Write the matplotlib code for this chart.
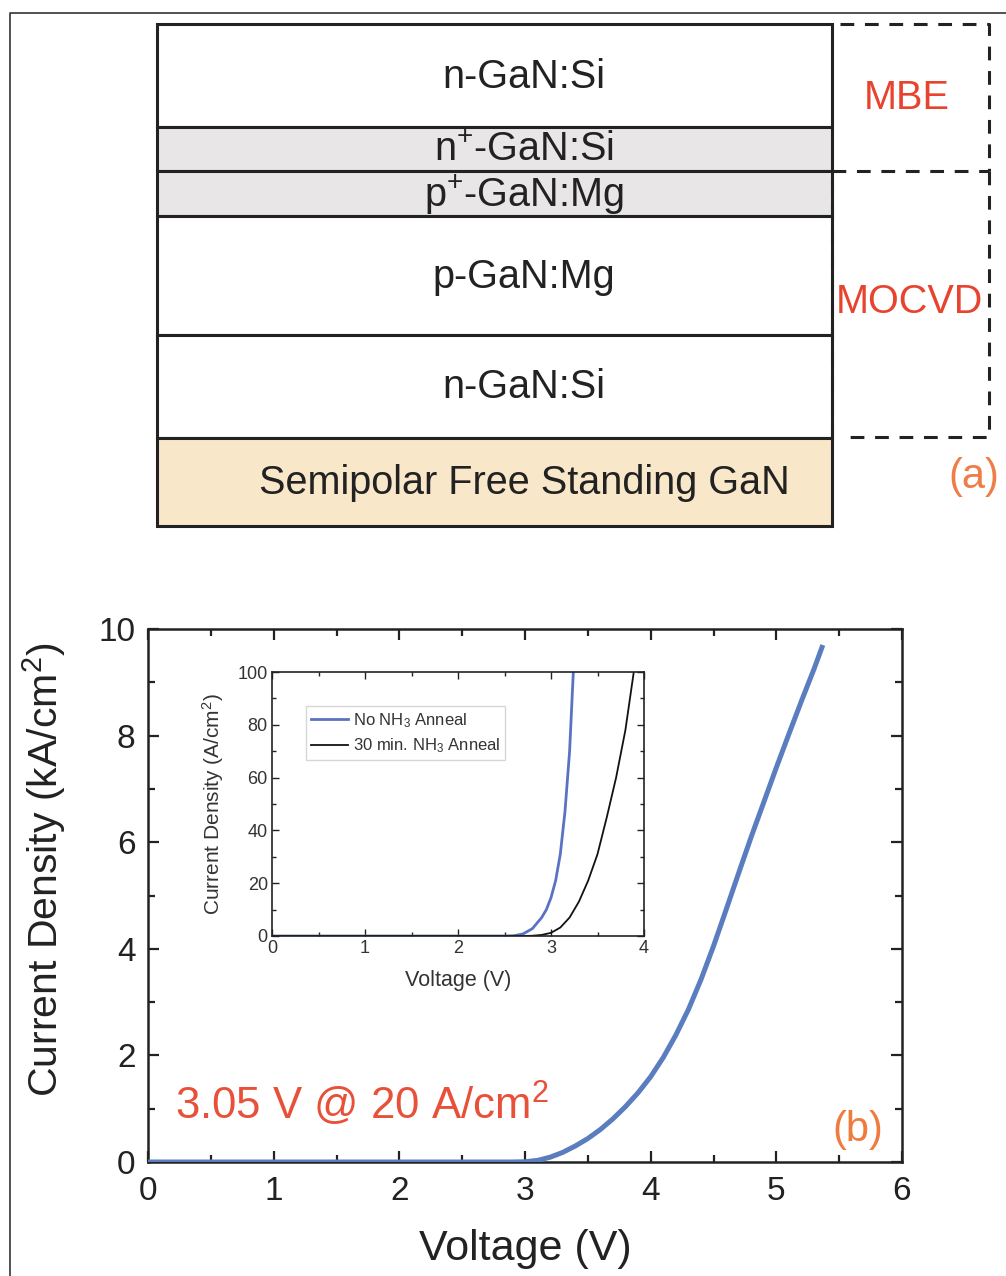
import matplotlib.pyplot as plt
from matplotlib.patches import Rectangle
from matplotlib.ticker import MultipleLocator

plt.rcParams['font.family'] = ['Liberation Sans', 'DejaVu Sans']
plt.rcParams['mathtext.default'] = 'regular'

# layer stack (a), top to bottom, edges in pixel rows
layer_names = ['n-GaN:Si', r'n$^{+}$-GaN:Si', r'p$^{+}$-GaN:Mg', 'p-GaN:Mg', 'n-GaN:Si',
               'Semipolar Free Standing GaN']
layer_edges = [24, 127, 171, 216, 335, 438, 526]
layer_colors = ['white', '#e8e6e6', '#e8e6e6', 'white', 'white', '#f8e7c9']

# main J-V curve (b)
v_main = [0, 2.9, 3.0, 3.1, 3.2, 3.3, 3.4, 3.5, 3.6, 3.7, 3.8, 3.9, 4.0, 4.1, 4.2,
          4.3, 4.4, 4.5, 4.6, 4.7, 4.8, 4.9, 5.0, 5.1, 5.2, 5.3, 5.37]
j_main = [0, 0, 0.005, 0.03, 0.09, 0.18, 0.30, 0.44, 0.61, 0.81, 1.04, 1.30, 1.60, 1.96,
          2.38, 2.86, 3.42, 4.05, 4.73, 5.42, 6.1, 6.75, 7.4, 8.03, 8.65, 9.25, 9.70]

# inset curves (A/cm2)
v_no = [0, 2.5, 2.6, 2.7, 2.8, 2.9, 2.95, 3.0, 3.05, 3.1, 3.15, 3.2, 3.24]
j_no = [0, 0, 0.1, 0.8, 2.8, 7, 10, 14.5, 21, 31, 47, 70, 100]
v_30 = [0, 2.7, 2.8, 2.9, 3.0, 3.1, 3.2, 3.3, 3.4, 3.5, 3.6, 3.7, 3.8, 3.89]
j_30 = [0, 0, 0.1, 0.4, 1.2, 3.2, 7, 13, 21, 31, 45, 60, 78, 100]

W, H = 1006, 1276
fig = plt.figure(figsize=(W / 100, H / 100), dpi=100)

# --- panel (a): drawn in pixel coordinates on a full-figure axes
bg = fig.add_axes([0, 0, 1, 1])
bg.set_xlim(0, W)
bg.set_ylim(H, 0)
bg.axis('off')

bg.plot([10, 10, W], [H, 13, 13], color='#333333', lw=1.2)

x0, x1 = 157, 832
for i, name in enumerate(layer_names):
    top, bot = layer_edges[i], layer_edges[i + 1]
    bg.add_patch(Rectangle((x0, top), x1 - x0, bot - top, facecolor=layer_colors[i],
                           edgecolor='#222222', lw=2.2))
    bg.text(524, (top + bot) / 2 + 1, name, ha='center', va='center', fontsize=28.5,
            color='#222222')

dash = dict(color='#222222', lw=2.2, ls=(0, (4.5, 3.5)))
bg.plot([840, 989, 989], [24, 24, 171], **dash)
bg.plot([832, 989], [171, 171], **dash)
bg.plot([989, 989, 849], [171, 437, 437], **dash)
bg.plot([832, 832], [180, 437], **dash)

bg.text(907, 98, 'MBE', ha='center', va='center', fontsize=28.5, color='#e8432f')
bg.text(909, 302, 'MOCVD', ha='center', va='center', fontsize=28.5, color='#e8432f')
bg.text(974, 477, '(a)', ha='center', va='center', fontsize=30, color='#ee7d48')

# --- panel (b)
ax = fig.add_axes([148 / W, 1 - 1162 / H, 754 / W, 533 / H])
ax.plot(v_main, j_main, color='#5a7dbf', lw=3.6, solid_capstyle='butt',
        solid_joinstyle='round', zorder=3)
ax.set_xlim(0, 6)
ax.set_ylim(0, 10)
ax.xaxis.set_major_locator(MultipleLocator(1))
ax.xaxis.set_minor_locator(MultipleLocator(0.5))
ax.yaxis.set_major_locator(MultipleLocator(2))
ax.yaxis.set_minor_locator(MultipleLocator(1))
ax.tick_params(which='both', direction='in', top=True, right=True, color='#222222',
               width=1.6, labelsize=24, labelcolor='#222222')
ax.tick_params(which='major', length=8)
ax.tick_params(which='minor', length=5)
ax.tick_params(axis='x', pad=10)
ax.tick_params(axis='y', pad=9)
for s in ax.spines.values():
    s.set_linewidth(1.8)
    s.set_color('#222222')
ax.set_xlabel('Voltage (V)', fontsize=31, color='#222222')
ax.set_ylabel('Current Density (kA/cm$^{2}$)', fontsize=29.5, color='#222222')
ax.xaxis.set_label_coords(0.5, -0.125)
ax.yaxis.set_label_coords(-0.106, 0.548)

ax.text(175, 1104, r'3.05 V @ 20 A/cm$^{2}$', transform=bg.transData, ha='left',
        va='center', fontsize=31.5, color='#e8503a')
ax.text(858, 1130, '(b)', transform=bg.transData, ha='center', va='center',
        fontsize=30, color='#f07b3f')

# --- inset
ins = fig.add_axes([272 / W, 1 - 936 / H, 372 / W, 264 / H])
ins.plot(v_no, j_no, color='#5a72c4', lw=2.0, label='No NH$_{3}$ Anneal')
ins.plot(v_30, j_30, color='#111111', lw=1.3, label='30 min. NH$_{3}$ Anneal')
ins.set_xlim(0, 4)
ins.set_ylim(0, 100)
ins.xaxis.set_major_locator(MultipleLocator(1))
ins.xaxis.set_minor_locator(MultipleLocator(0.5))
ins.yaxis.set_major_locator(MultipleLocator(20))
ins.yaxis.set_minor_locator(MultipleLocator(10))
ins.tick_params(which='both', direction='in', top=True, right=True, color='#222222',
                width=1.0, labelsize=13, labelcolor='#333333', pad=3)
ins.tick_params(which='major', length=5)
ins.tick_params(which='minor', length=3)
for s in ins.spines.values():
    s.set_linewidth(1.2)
    s.set_color('#222222')
ins.set_xlabel('Voltage (V)', fontsize=15.5, color='#333333', labelpad=9)
ins.set_ylabel('Current Density (A/cm$^{2}$)', fontsize=15, color='#333333', labelpad=8)
leg = ins.legend(loc='upper left', bbox_to_anchor=(0.091, 0.871), borderaxespad=0,
                 fontsize=12, fancybox=False, handlelength=2.2, handletextpad=0.3,
                 borderpad=0.3, labelspacing=0.4, frameon=True)
leg.get_frame().set_edgecolor('#cccccc')
leg.get_frame().set_linewidth(1.0)
for t in leg.get_texts():
    t.set_color('#333333')

plt.savefig('out.png', dpi=100)
